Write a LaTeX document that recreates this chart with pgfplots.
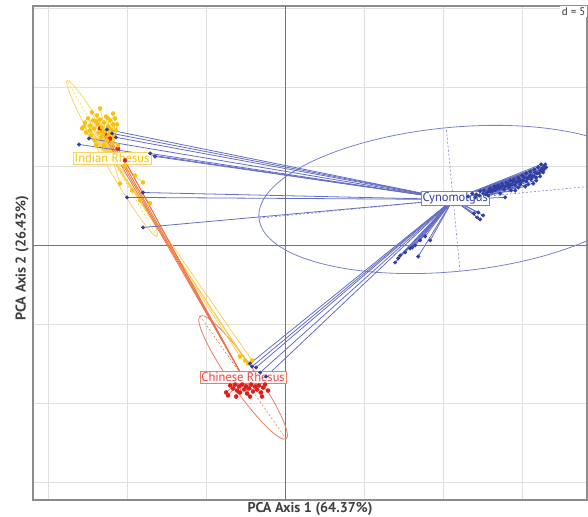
\documentclass[border=0pt]{standalone}
\usepackage{pgfplots}
\pgfplotsset{compat=1.18}
\usepackage{pgfplotstable}
\usepackage{fontspec}
\setmainfont{PT Sans}
\definecolor{cynodot}{RGB}{48,62,160}
\definecolor{cynoline}{RGB}{100,110,198}
\definecolor{cynoell}{RGB}{120,130,205}
\definecolor{inddot}{RGB}{245,195,15}
\definecolor{indline}{RGB}{248,205,75}
\definecolor{indell}{RGB}{245,212,110}
\definecolor{chidot}{RGB}{220,30,30}
\definecolor{chiline}{RGB}{236,112,72}
\definecolor{chiell}{RGB}{236,125,95}

\pgfplotstableread{
x y
-13.04 6.39
-12.41 6.77
-11.27 7.34
-10.95 7.09
-10.70 6.84
-8.54 5.82
-8.23 5.63
-8.99 3.35
-10.00 3.04
-8.99 1.14
-2.22 -7.47
-2.09 -7.66
-1.84 -7.72
-1.58 -8.04
-1.20 -8.29
6.96 -1.08
7.15 -0.82
7.28 -0.63
7.59 -0.44
7.91 -0.19
8.04 -0.13
8.23 0.00
8.42 -0.70
8.54 0.32
8.86 0.57
9.18 0.32
11.96 2.03
12.15 1.77
12.34 1.65
12.53 1.90
12.22 2.09
11.58 3.10
11.84 3.29
12.09 3.23
12.34 3.42
12.59 3.48
12.78 3.35
12.97 3.61
13.16 3.54
13.35 3.73
13.54 3.61
13.73 3.80
13.92 3.73
14.11 3.92
14.24 3.80
14.43 4.05
14.62 3.99
14.81 4.18
14.94 4.05
15.13 4.30
15.32 4.24
15.51 4.43
15.63 4.37
15.82 4.62
15.95 4.56
16.14 4.75
16.27 4.87
16.39 5.00
16.46 5.13
16.20 5.13
16.01 4.94
15.76 4.81
15.51 4.68
15.25 4.56
15.00 4.43
14.75 4.30
14.49 4.18
14.24 4.11
13.99 3.99
13.73 3.92
13.48 3.80
13.23 3.73
12.97 3.42
13.92 3.04
14.56 3.48
15.19 3.73
15.70 3.92
16.14 4.37
16.33 4.62
14.87 3.86
13.61 3.29
12.85 3.16
12.03 3.04
12.28 3.16
12.53 3.29
12.72 3.23
12.91 3.48
13.10 3.42
13.29 3.48
13.42 3.61
13.67 3.67
13.86 3.54
14.05 3.80
14.18 3.67
14.37 3.86
14.56 3.80
14.68 4.05
14.87 3.99
15.06 4.11
15.25 4.05
15.38 4.30
15.57 4.18
15.76 4.37
15.89 4.30
16.08 4.56
16.27 4.68
16.39 4.81
16.52 4.94
14.30 3.48
14.75 3.67
15.38 3.86
15.89 4.11
}\cyno

\pgfplotstableread{
x y
-12.85 7.41
-12.66 7.78
-12.59 7.15
-12.47 8.04
-12.34 7.59
-12.28 6.96
-12.15 7.91
-12.09 7.41
-12.03 6.65
-11.90 8.23
-11.84 7.66
-11.77 7.15
-11.71 7.97
-11.65 6.84
-11.58 7.47
-11.46 7.78
-11.39 7.22
-11.33 8.16
-11.27 6.65
-11.20 7.53
-11.14 7.03
-11.08 7.91
-11.01 7.34
-10.95 6.46
-10.89 7.66
-10.82 6.90
-10.76 8.04
-10.70 7.28
-12.22 8.42
-10.89 8.35
-11.71 8.67
-10.57 6.33
-11.46 6.33
-11.96 6.33
-12.72 7.53
-11.96 7.85
-11.52 7.03
-11.20 8.04
-10.63 7.66
-12.34 7.28
-10.44 3.92
-8.99 3.99
-8.54 2.66
-10.13 5.06
-9.49 4.43
-9.68 3.48
-9.18 2.85
-2.85 -7.03
-2.53 -7.28
-2.34 -7.47
-2.09 -7.28
}\indian

\pgfplotstableread{
x y
-11.71 7.41
-11.39 7.09
-11.08 6.77
-10.57 6.14
-10.13 5.38
-3.48 -8.86
-3.29 -9.05
-3.16 -8.80
-3.04 -9.18
-2.91 -8.92
-2.85 -9.30
-2.72 -8.80
-2.59 -9.11
-2.47 -8.92
-2.41 -9.37
-2.28 -9.05
-2.15 -8.80
-2.03 -9.24
-1.90 -8.92
-1.77 -9.11
-1.65 -8.86
-1.52 -9.30
-1.39 -8.99
-1.27 -8.80
-3.61 -9.49
-3.10 -9.56
-2.22 -9.56
-1.46 -9.56
-1.08 -9.18
-3.73 -9.30
}\chinese

\begin{document}
\begin{tikzpicture}
\begin{axis}[
  x=15.8pt, y=15.8pt, scale only axis,
  xmin=-15.95, xmax=19.1, ymin=-16.1, ymax=15.15,
  axis line style={draw=black!45, line width=1.3pt},
  xtick={-15,-10,-5,5,10,15}, ytick={-15,-10,-5,5,10,15},
  xticklabels={}, yticklabels={},
  major tick length=0pt,
  grid=major, major grid style={draw=black!12, line width=0.7pt},
  extra x ticks={0}, extra y ticks={0},
  extra x tick labels={}, extra y tick labels={},
  extra tick style={major grid style={draw=black!55, line width=1pt}, major tick length=0pt},
  xlabel={PCA Axis 1 (64.37\%)},
  ylabel={PCA Axis 2 (26.43\%)},
  label style={font=\fontsize{14.2}{16}\selectfont\bfseries, text=black!75},
  xlabel style={at={(rel axis cs:0.5,0)}, anchor=north, inner sep=0pt, yshift=-2.5pt},
  ylabel style={at={(rel axis cs:0,0.49)}, anchor=south, inner sep=0pt, yshift=4pt},
]
% ellipses
\draw[cynoell, line width=0.8pt, shift={(axis cs:10.63,2.91)}, rotate=5.5] (0pt,0pt) ellipse [x radius=195pt, y radius=72pt];
\draw[cynoell, line width=0.6pt, dash pattern=on 2pt off 2pt, shift={(axis cs:10.63,2.91)}, rotate=5.5] (-195pt,0pt) -- (195pt,0pt) (0pt,-72pt) -- (0pt,72pt);
\draw[indell, line width=0.8pt, shift={(axis cs:-10.95,5.51)}, rotate=120] (0pt,0pt) ellipse [x radius=90pt, y radius=8pt];
\draw[indell, line width=0.6pt, dash pattern=on 2pt off 2pt, shift={(axis cs:-10.95,5.51)}, rotate=120] (-90pt,0pt) -- (90pt,0pt);
\draw[chiell, line width=0.8pt, shift={(axis cs:-2.66,-8.35)}, rotate=-55] (0pt,0pt) ellipse [x radius=75pt, y radius=13pt];
\draw[chiell, line width=0.6pt, dash pattern=on 2pt off 2pt, shift={(axis cs:-2.66,-8.35)}, rotate=-55] (-75pt,0pt) -- (75pt,0pt) (0pt,-13pt) -- (0pt,13pt);
% star lines
\addplot[indline, line width=0.7pt, no marks, quiver={u={-10.95-\thisrow{x}}, v={5.51-\thisrow{y}}}] table {\indian};
\addplot[chiline, line width=0.7pt, no marks, quiver={u={-2.66-\thisrow{x}}, v={-8.35-\thisrow{y}}}] table {\chinese};
\addplot[cynoline, line width=0.8pt, no marks, quiver={u={10.63-\thisrow{x}}, v={2.91-\thisrow{y}}}] table {\cyno};
% points
\addplot[only marks, mark=*, mark size=2pt, draw=chidot, fill=chidot] table {\chinese};
\addplot[only marks, mark=*, mark size=2pt, draw=inddot, fill=inddot] table {\indian};
\addplot[only marks, mark=*, mark size=1.8pt, draw=cynodot, fill=cynodot] table {\cyno};
% labels
\node[draw=cynoell, fill=white, text=cynodot, line width=0.6pt, inner sep=1.5pt, font=\fontsize{12.5}{14}\selectfont] at (axis cs:10.76,2.97) {Cynomolgus};
\node[draw=indell, fill=yellow!6, text=inddot, line width=0.6pt, inner sep=1.5pt, font=\fontsize{12.5}{14}\selectfont] at (axis cs:-10.95,5.51) {Indian Rhesus};
\node[draw=chiell, fill=red!4, text=chidot!80, line width=0.6pt, inner sep=1.5pt, font=\fontsize{12.5}{14}\selectfont] at (axis cs:-2.66,-8.35) {Chinese Rhesus};
\node[anchor=north east, fill=white, inner sep=1.5pt, font=\fontsize{11}{12}\selectfont, text=black!80] at (rel axis cs:1,1) {d = 5};
\end{axis}
\pgfresetboundingbox
\path ([shift={(-33pt,-17pt)}]current axis.south west) rectangle ([shift={(1pt,6pt)}]current axis.north east);
\end{tikzpicture}
\end{document}
